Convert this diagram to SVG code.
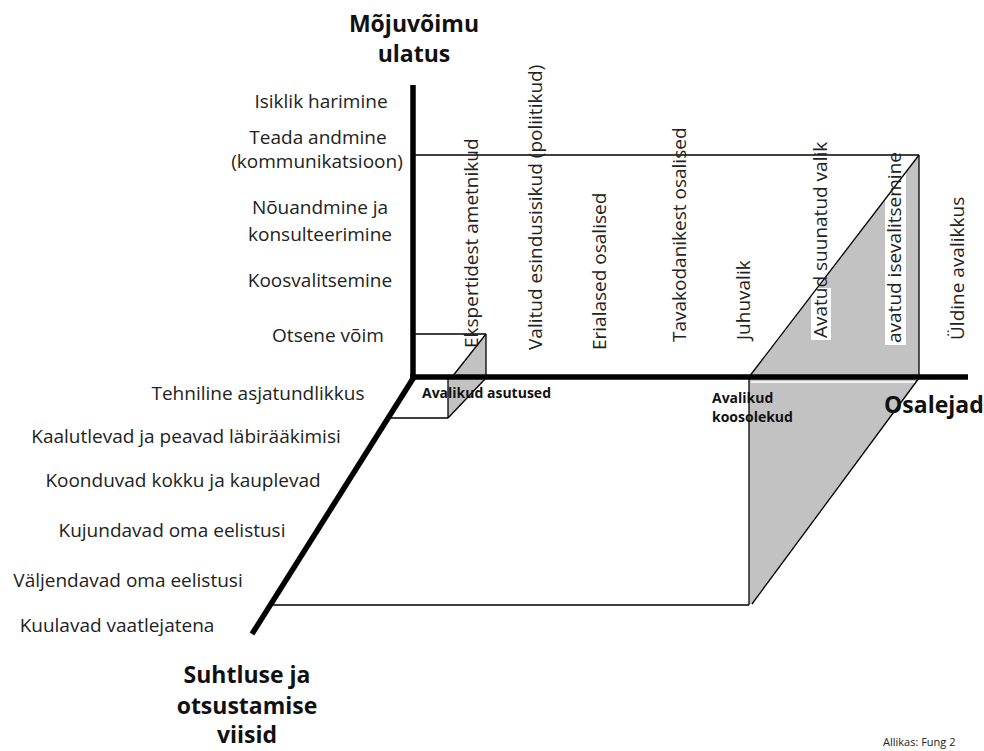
<svg xmlns="http://www.w3.org/2000/svg" width="984" height="751" viewBox="0 0 984 751">
<style>
text{font-family:"Open Sans","Noto Sans","Liberation Sans",sans-serif;fill:#222}
.lbl{font-size:19px}
.ttl{font-size:23px;font-weight:bold;fill:#111}
.sm{font-size:14px;font-weight:bold;fill:#111}
.axis{stroke:#000;stroke-width:5.5;fill:none;stroke-linecap:butt}
.thin{stroke:#000;stroke-width:1.3;fill:none}
.grey{fill:#c2c2c2;stroke:none}
.mid{text-anchor:middle}
</style>
<rect width="984" height="751" fill="#fff"/>

<g id="shapes">
  <polygon class="grey" points="749,377 919,155 919,377"/>
  <polygon class="grey" points="749,379 919,379 752,604 749,604"/>
  <polygon class="grey" points="452,377 486,334 486,377"/>
  <polygon class="grey" points="448,379 486,379 448,418"/>
  <rect x="885" y="165" width="21" height="180" fill="#fff"/>
  <rect x="811" y="288" width="20" height="52" fill="#fff"/>
</g>

<g id="connectors">
  <line class="thin" x1="413" y1="155" x2="919" y2="155"/>
  <line class="thin" x1="919" y1="155" x2="919" y2="377"/>
  <line class="thin" x1="749" y1="377" x2="919" y2="155"/>
  <line class="thin" x1="749" y1="377" x2="749" y2="605"/>
  <line class="thin" x1="919" y1="378" x2="752" y2="604"/>
  <line class="thin" x1="273" y1="605" x2="749" y2="605"/>
  <line class="thin" x1="413" y1="334" x2="486" y2="334"/>
  <line class="thin" x1="486" y1="334" x2="486" y2="377"/>
  <line class="thin" x1="452" y1="377" x2="486" y2="334"/>
  <line class="thin" x1="448" y1="377" x2="448" y2="418"/>
  <line class="thin" x1="486" y1="378" x2="448" y2="418"/>
  <line class="thin" x1="388" y1="418" x2="448" y2="418"/>
  <line stroke="#fff" stroke-width="1.5" x1="751" y1="382" x2="915" y2="382"/>
  <line class="axis" x1="413" y1="85" x2="413" y2="380"/>
  <line class="axis" x1="410" y1="377" x2="968" y2="377"/>
  <line class="axis" x1="414" y1="377" x2="252" y2="634"/>
</g>

<g id="axis-titles">
  <text class="ttl mid" x="414" y="32">Mõjuvõimu</text>
  <text class="ttl mid" x="414" y="62">ulatus</text>
  <text class="ttl" x="884" y="413" font-size="22">Osalejad</text>
  <text class="ttl mid" x="247" y="683" font-size="22">Suhtluse ja</text>
  <text class="ttl mid" x="247" y="714" font-size="22">otsustamise</text>
  <text class="ttl mid" x="247" y="743" font-size="22">viisid</text>
</g>

<g id="influence-labels">
  <text class="lbl mid" x="321" y="108">Isiklik harimine</text>
  <text class="lbl mid" x="318" y="144">Teada andmine</text>
  <text class="lbl mid" x="317" y="168">(kommunikatsioon)</text>
  <text class="lbl mid" x="320" y="214">Nõuandmine ja</text>
  <text class="lbl mid" x="320" y="241">konsulteerimine</text>
  <text class="lbl mid" x="320" y="287">Koosvalitsemine</text>
  <text class="lbl mid" x="328" y="342">Otsene võim</text>
</g>

<g id="communication-labels">
  <text class="lbl mid" x="258" y="400">Tehniline asjatundlikkus</text>
  <text class="lbl mid" x="186" y="443">Kaalutlevad ja peavad läbirääkimisi</text>
  <text class="lbl mid" x="183" y="487">Koonduvad kokku ja kauplevad</text>
  <text class="lbl mid" x="172" y="537">Kujundavad oma eelistusi</text>
  <text class="lbl mid" x="128" y="587">Väljendavad oma eelistusi</text>
  <text class="lbl mid" x="117" y="632">Kuulavad vaatlejatena</text>
</g>

<g id="participant-labels">
  <text class="lbl" transform="translate(478,348) rotate(-90)">Ekspertidest ametnikud</text>
  <text class="lbl" transform="translate(542,350) rotate(-90)">Valitud esindusisikud (poliitikud)</text>
  <text class="lbl" transform="translate(606,350) rotate(-90)">Erialased osalised</text>
  <text class="lbl" transform="translate(686,342) rotate(-90)">Tavakodanikest osalised</text>
  <text class="lbl" transform="translate(750,340) rotate(-90)">Juhuvalik</text>
  <text class="lbl" transform="translate(827,338) rotate(-90)">Avatud suunatud valik</text>
  <text class="lbl" transform="translate(901,343) rotate(-90)">avatud isevalitsemine</text>
  <text class="lbl" transform="translate(964,340) rotate(-90)">Üldine avalikkus</text>
</g>

<g id="corner-labels">
  <text class="sm" x="422" y="398">Avalikud asutused</text>
  <text class="sm" x="712" y="403">Avalikud</text>
  <text class="sm" x="712" y="422">koosolekud</text>
  <text x="883" y="746" font-size="11">Allikas: Fung 2</text>
</g>
</svg>
